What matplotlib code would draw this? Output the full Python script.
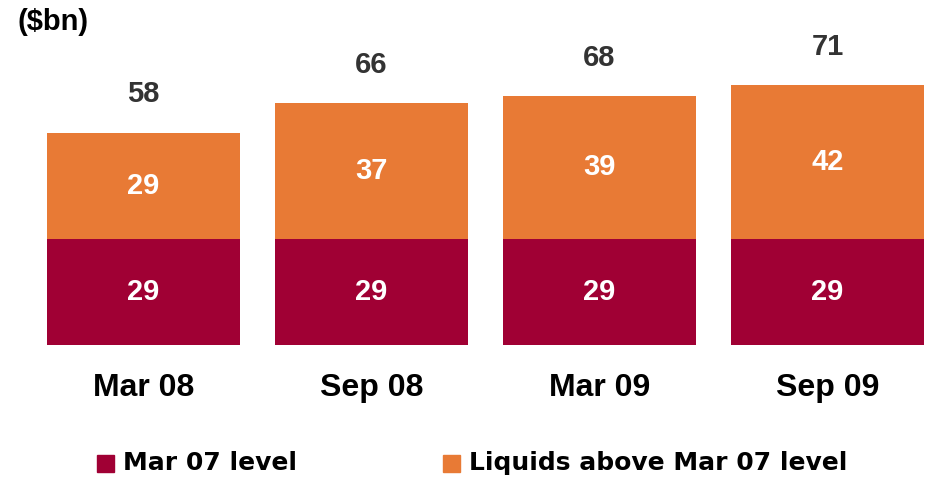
import matplotlib.pyplot as plt
import numpy as np
from matplotlib.patches import Rectangle

plt.rcParams['font.family'] = ['Liberation Sans', 'DejaVu Sans']

categories = ['Mar 08', 'Sep 08', 'Mar 09', 'Sep 09']
base_level = [29, 29, 29, 29]
above_level = [29, 37, 39, 42]
totals = [58, 66, 68, 71]
series_names = ['Mar 07 level', 'Liquids above Mar 07 level']

red = '#A00034'
orange = '#E87A35'
W, H = 930, 478

fig = plt.figure(figsize=(W / 100, H / 100), dpi=100)
ax = fig.add_axes([0, 133 / H, 1, 345 / H])

x = np.arange(len(categories))
w = 0.85
ax.bar(x, base_level, width=w, color=red)
ax.bar(x, above_level, width=w, bottom=base_level, color=orange)

for i in range(len(categories)):
    ax.text(x[i], base_level[i] / 2, str(base_level[i]), ha='center', va='center',
            color='white', fontsize=21, fontweight='bold')
    ax.text(x[i], base_level[i] + above_level[i] / 2, str(above_level[i]), ha='center',
            va='center', color='white', fontsize=21, fontweight='bold')
    ax.text(x[i], totals[i] + 10.5, str(totals[i]), ha='center', va='center',
            color='#333333', fontsize=21, fontweight='bold')
    ax.text(x[i], -11.8, categories[i], ha='center', va='center',
            color='black', fontsize=23, fontweight='bold')

ax.set_xlim(-143.5 / 228, (W - 143.5) / 228)
ax.set_ylim(0, 345 / 3.66)
ax.axis('off')

fig.text(17 / W, 1 - 22 / H, '($bn)', ha='left', va='center',
         fontsize=21, fontweight='bold')

# legend drawn by hand: square + label
leg_colors = [red, orange]
leg_x = [97, 443]
for name, col, lx in zip(series_names, leg_colors, leg_x):
    fig.add_artist(Rectangle((lx / W, 1 - 472 / H), 17 / W, 17 / H,
                             transform=fig.transFigure, color=col))
    fig.text((lx + 26) / W, 1 - 463 / H, name, ha='left', va='center',
             fontsize=18, fontweight='bold', family='DejaVu Sans')

fig.savefig('out.png', dpi=100)
